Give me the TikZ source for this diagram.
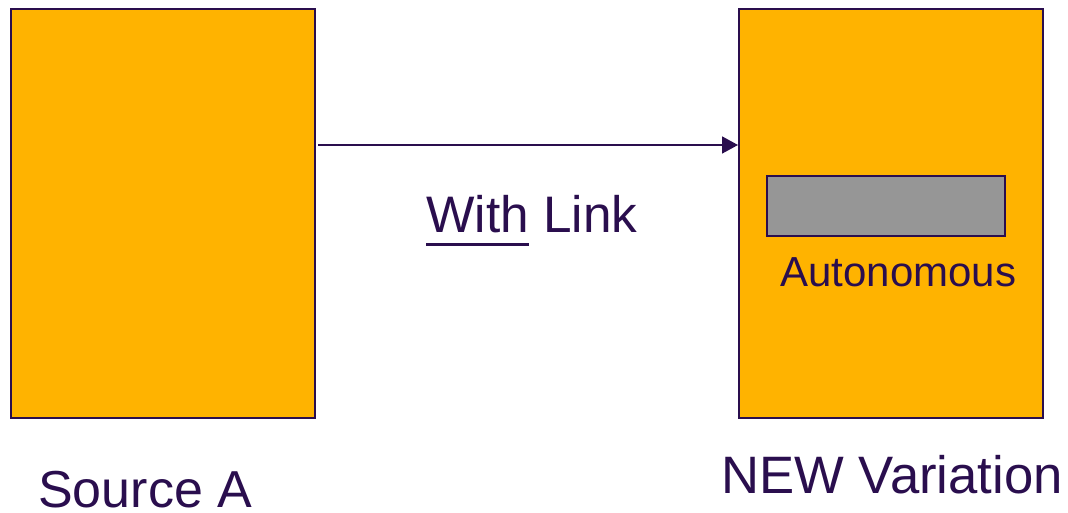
\documentclass[tikz,border=0pt]{standalone}
\usepackage{fontspec}
\setmainfont{Liberation Sans}
\usetikzlibrary{calc,arrows.meta}
\definecolor{SlideOrange}{RGB}{255,179,0}
\definecolor{SlidePurple}{RGB}{42,14,78}
\definecolor{SlideGray}{RGB}{150,150,150}
\newcommand{\ulword}[1]{\setbox0\hbox{#1}\rlap{\rule[-9.75pt]{\wd0}{2.25pt}}#1}

\begin{document}
\begin{tikzpicture}[x=0.75pt, y=-0.75pt]
      \tikzstyle{panel}=[draw=SlidePurple, fill=SlideOrange, line width=1.5pt, inner sep=0, anchor=north west, minimum width=228pt, minimum height=306.75pt];
      \tikzstyle{slot}=[draw=SlidePurple, fill=SlideGray, line width=1.4pt, inner sep=0, anchor=north west, minimum width=178.5pt, minimum height=45pt];
      \tikzstyle{caption}=[text=SlidePurple, inner sep=0, anchor=base west];
      \tikzstyle{link}=[draw=SlidePurple, line width=1.3pt, -{Triangle[length=12pt, width=12.75pt]}];

      \useasboundingbox (0,0) rectangle (1068,513);

      % the two boxes
      \node[panel] (source) at (10,8) {};
      \node[panel] (variation) at (738,8) {};
      \node[slot] (auto) at (766,175) {};

      % labels
      \node[caption, font=\fontsize{38.5}{44}\selectfont] (withlink) at (426,233) {\ulword{With} Link};
      \node[caption, font=\fontsize{31.5}{36}\selectfont] (autolabel) at (780,287) {Autonomous};
      \node[caption, font=\fontsize{39}{44}\selectfont] (srclabel) at (38,507) {Source A};
      \node[caption, font=\fontsize{39.5}{44}\selectfont] (newlabel) at (721,493) {NEW Variation};

      \draw[link] ($(source.north east)+(2,137)$) -- ($(variation.north west)+(0,137)$);
    \end{tikzpicture}
\end{document}
